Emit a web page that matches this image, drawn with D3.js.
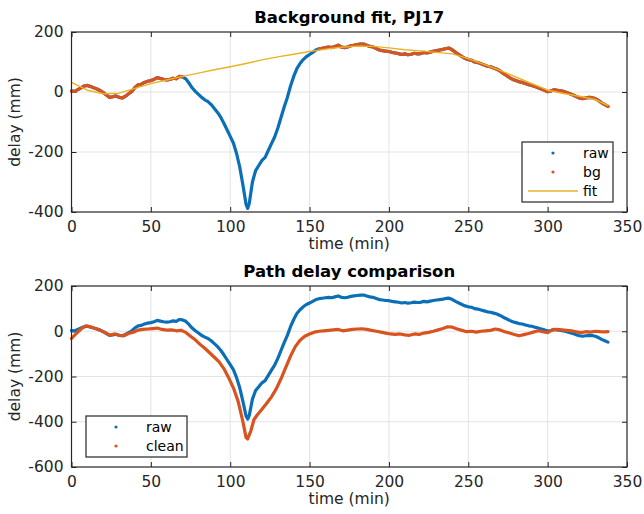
<!DOCTYPE html>
<html>
<head>
<meta charset="utf-8">
<script src="https://cdn.jsdelivr.net/npm/d3@7"></script>
<style>
  body { margin: 0; background: #fff; }
  text { font-family: "DejaVu Sans", sans-serif; fill: #262626; }
  .tick text { font-size: 15.5px; }
  .title { font-size: 16.5px; font-weight: bold; fill: #000; }
  .axisText { font-size: 15.5px; }
  .legendText { font-size: 14px; fill: #000; }
</style>
</head>
<body>
<div id="chart"></div>
<script>
// Raw delay (mm) against time (min)
var rawTime = [0,2,4,6,8,10,12,14,16,18,20,22,24,26,28,30,32,34,36,38,40,42,44,46,48,50,52,54,56,58,60,62,64,66,68,70,
  72,74,76,78,80,82,84,86,88,90,92,94,96,98,100,102,104,106,108,110,111,112,114,116,118,120,122,124,126,128,130,132,134,136,138,
  140,142,144,146,148,150,152,154,156,158,160,162,164,166,168,170,172,174,176,178,180,182,184,186,188,190,192,194,196,198,200,
  202,204,206,208,210,212,214,216,218,220,222,224,226,228,230,232,234,236,238,240,242,244,246,248,250,252,254,256,258,260,
  262,264,266,268,270,272,274,276,278,280,282,284,286,288,290,292,294,296,298,300,302,304,306,308,310,312,314,316,318,320,
  322,324,326,328,330,332,334,336,338];
var rawDelay = [3,2,8,14,20,22,18,14,10,5,-2,-10,-18,-16,-13,-18,-20,-14,-6,2,15,24,26,32,36,38,42,48,45,42,40,42,46,44,52,50,
  44,30,14,2,-8,-18,-26,-32,-42,-55,-68,-84,-104,-126,-148,-170,-205,-250,-310,-375,-388,-372,-300,-262,-245,-228,-218,-195,-172,-150,-120,-85,-50,-18,20,
  52,78,95,108,118,125,132,140,144,146,148,150,148,152,156,150,148,150,154,156,158,160,160,156,152,150,145,140,138,136,135,
  132,130,128,125,127,124,126,129,127,128,132,130,133,136,138,140,142,145,146,140,132,125,118,112,108,106,100,98,94,90,
  86,84,80,76,70,62,55,48,42,38,34,32,28,24,22,18,14,10,6,1,3,8,6,4,2,-2,-6,-10,-15,-20,
  -22,-20,-18,-19,-22,-28,-36,-42,-48];

// Window (min) left out of the background points
var bgGap = [71, 155];

// Smooth background fit
var fitTime = [0,10,20,30,40,50,60,70,80,90,100,110,120,130,140,150,160,170,180,190,200,210,220,230,240,250,260,270,280,290,300,310,320,330,338];
var fitDelay = [32,6,-6,-4,12,28,40,52,63,74,84,95,107,117,126,135,143,149,153,152,147,141,137,132,127,111,92,72,50,28,6,-5,-14,-25,-45];

// Cleaned delay (raw minus fit)
var cleanTime = [0,3,6,9,12,15,18,21,24,27,30,33,36,39,42,45,48,51,54,57,60,63,66,69,72,75,78,81,84,87,90,93,96,99,102,105,108,110,111,113,115,117,
  120,123,126,129,132,135,138,141,144,147,150,153,156,159,162,165,168,171,174,177,180,183,186,189,192,195,198,201,204,207,210,213,216,219,222,225,
  228,231,234,237,240,243,246,249,252,255,258,261,264,267,270,273,276,279,282,285,288,291,294,297,300,303,306,309,312,315,318,321,324,327,330,333,336,338];
var cleanDelay = [-32,-10,10,24,20,12,5,-5,-17,-12,-18,-20,-10,-4,5,8,10,12,14,8,5,6,2,4,-5,-22,-38,-58,-75,-95,-115,-135,-165,-205,-250,-310,-400,-470,-476,-440,-390,-370,
  -345,-318,-290,-255,-210,-160,-110,-68,-40,-22,-12,-4,0,2,4,6,8,2,5,8,10,11,8,4,0,-4,-8,-12,-14,-12,-16,-18,-12,-14,-8,-5,
  0,6,12,20,18,10,4,-2,0,-4,0,2,4,10,6,-2,-8,-14,-20,-15,-10,-4,2,-2,-6,6,8,6,4,2,-2,-6,-2,-4,0,-2,-3,-2];

var xTicks = [0, 50, 100, 150, 200, 250, 300, 350];
var topYTicks = [-400, -200, 0, 200];
var bottomYTicks = [-600, -400, -200, 0, 200];

var blue = "#0b6fb8";
var orange = "#d9531e";
var yellow = "#e8b325";

var svgWidth = 644;
var svgHeight = 514;

var svg = d3.select("#chart")
    .append("svg")
    .attr("width", svgWidth)
    .attr("height", svgHeight);

var raw = rawTime.map((t, i) => ({ t: t, v: rawDelay[i] }));
var bg = raw.filter(d => d.t < bgGap[0] || d.t > bgGap[1]);
var fit = fitTime.map((t, i) => ({ t: t, v: fitDelay[i] }));
var clean = cleanTime.map((t, i) => ({ t: t, v: cleanDelay[i] }));

// plain hyphen for negative tick labels
var plainFormat = d => String(d);

// Draws one boxed panel with grid, ticks on all sides and labels
function drawPanel(box, yDomain, yTicks, title) {
  var x = d3.scaleLinear().domain([0, 350]).range([box.left, box.right]);
  var y = d3.scaleLinear().domain(yDomain).range([box.bottom, box.top]);
  var g = svg.append("g");

  // grid
  g.append("g").selectAll("line").data(xTicks.slice(1, -1)).enter().append("line")
    .attr("x1", d => x(d)).attr("x2", d => x(d))
    .attr("y1", box.top).attr("y2", box.bottom)
    .attr("stroke", "#e3e3e3").attr("stroke-width", 1);
  g.append("g").selectAll("line").data(yTicks.slice(1, -1)).enter().append("line")
    .attr("y1", d => y(d)).attr("y2", d => y(d))
    .attr("x1", box.left).attr("x2", box.right)
    .attr("stroke", "#e3e3e3").attr("stroke-width", 1);

  var bottomAxis = d3.axisBottom(x).tickValues(xTicks).tickFormat(plainFormat).tickSizeInner(-5).tickSizeOuter(0).tickPadding(9);
  var topAxis = d3.axisTop(x).tickValues(xTicks).tickSizeInner(-5).tickSizeOuter(0).tickFormat("");
  var leftAxis = d3.axisLeft(y).tickValues(yTicks).tickFormat(plainFormat).tickSizeInner(-5).tickSizeOuter(0).tickPadding(8);
  var rightAxis = d3.axisRight(y).tickValues(yTicks).tickSizeInner(-5).tickSizeOuter(0).tickFormat("");

  g.append("g").attr("transform", `translate(0, ${box.bottom})`).call(bottomAxis);
  g.append("g").attr("transform", `translate(0, ${box.top})`).call(topAxis);
  g.append("g").attr("transform", `translate(${box.left}, 0)`).call(leftAxis);
  g.append("g").attr("transform", `translate(${box.right}, 0)`).call(rightAxis);
  g.selectAll(".domain").remove();
  g.selectAll(".tick line").attr("stroke", "#262626");
  g.selectAll(".tick text").attr("fill", "#262626");

  g.append("text")
    .attr("class", "title")
    .attr("x", (box.left + box.right) / 2)
    .attr("y", box.top - 9)
    .attr("text-anchor", "middle")
    .text(title);

  g.append("text")
    .attr("class", "axisText")
    .attr("x", (box.left + box.right) / 2)
    .attr("y", box.bottom + 37)
    .attr("text-anchor", "middle")
    .text("time (min)");

  g.append("text")
    .attr("class", "axisText")
    .attr("transform", `translate(20, ${(box.top + box.bottom) / 2}) rotate(-90)`)
    .attr("text-anchor", "middle")
    .text("delay (mm)");

  var plot = svg.append("g");
  svg.append("rect")
    .attr("x", box.left).attr("y", box.top)
    .attr("width", box.right - box.left).attr("height", box.bottom - box.top)
    .attr("fill", "none").attr("stroke", "#262626").attr("stroke-width", 1.2);

  return { x: x, y: y, plot: plot };
}

function addSeries(panel, data, color, width) {
  var line = d3.line().x(d => panel.x(d.t)).y(d => panel.y(d.v));
  panel.plot.append("path")
    .datum(data)
    .attr("d", line)
    .attr("fill", "none")
    .attr("stroke", color)
    .attr("stroke-width", width)
    .attr("stroke-linejoin", "round")
    .attr("stroke-linecap", "round");
}

function addLegend(box, entries) {
  var lg = svg.append("g");
  lg.append("rect")
    .attr("x", box.x).attr("y", box.y)
    .attr("width", box.w).attr("height", box.h)
    .attr("fill", "#fff").attr("stroke", "#262626").attr("stroke-width", 1.2);
  entries.forEach(function (e, i) {
    var cy = box.y + 11 + i * box.step;
    if (e.kind === "dot") {
      lg.append("circle").attr("cx", box.markX).attr("cy", cy).attr("r", 1.6).attr("fill", e.color);
    } else {
      lg.append("line")
        .attr("x1", box.lineX[0]).attr("x2", box.lineX[1])
        .attr("y1", cy).attr("y2", cy)
        .attr("stroke", e.color).attr("stroke-width", 1.5);
    }
    lg.append("text")
      .attr("class", "legendText")
      .attr("x", box.textX).attr("y", cy + 5)
      .text(e.label);
  });
}

// Top panel: background fit
var topPanel = drawPanel({ left: 71.5, right: 627, top: 32, bottom: 212 }, [-400, 200], topYTicks, "Background fit, PJ17");
addSeries(topPanel, raw, blue, 3.2);
addSeries(topPanel, bg.filter(d => d.t < bgGap[0]), orange, 3.2);
addSeries(topPanel, bg.filter(d => d.t > bgGap[1]), orange, 3.2);
addSeries(topPanel, fit, yellow, 1.4);

addLegend({ x: 522, y: 142, w: 91, h: 60, step: 19, markX: 553, lineX: [528, 578], textX: 583 }, [
  { label: "raw", color: blue, kind: "dot" },
  { label: "bg", color: orange, kind: "dot" },
  { label: "fit", color: yellow, kind: "line" }
]);

// Bottom panel: raw vs cleaned delay
var bottomPanel = drawPanel({ left: 71.5, right: 627, top: 286, bottom: 467 }, [-600, 200], bottomYTicks, "Path delay comparison");
addSeries(bottomPanel, raw, blue, 3.2);
addSeries(bottomPanel, clean, orange, 3.2);

addLegend({ x: 86, y: 416, w: 101, h: 41, step: 19, markX: 116, lineX: [100, 130], textX: 146 }, [
  { label: "raw", color: blue, kind: "dot" },
  { label: "clean", color: orange, kind: "dot" }
]);
</script>
</body>
</html>
